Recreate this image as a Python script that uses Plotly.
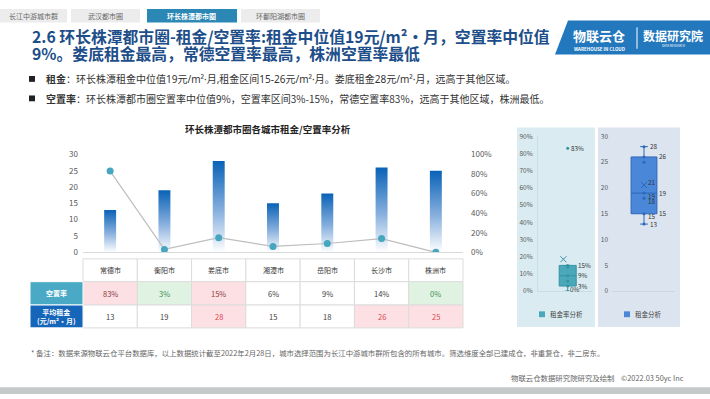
import plotly.graph_objects as go
import numpy as np

# ---------------- data ----------------
cities = ["常德市", "衡阳市", "娄底市", "湘潭市", "岳阳市", "长沙市", "株洲市"]
vacancy = [83, 3, 15, 6, 9, 14, 0]          # 空置率 %
rent = [13, 19, 28, 15, 18, 26, 25]         # 平均租金 元/m²·月
tabs = ["长江中游城市群", "武汉都市圈", "环长株潭都市圈", "环鄱阳湖都市圈"]
active_tab = 2
rent_ticks = [0, 5, 10, 15, 20, 25, 30]
vac_ticks = [0, 20, 40, 60, 80, 100]
box_vac_ticks = [0, 10, 20, 30, 40, 50, 60, 70, 80, 90]
box_rent_ticks = [0, 5, 10, 15, 20, 25, 30]

W, H = 710, 399
FONT = "Noto Sans CJK SC, Noto Sans, sans-serif"
FONT_LAT = "Noto Sans, Noto Sans CJK SC, sans-serif"


def fx(x):
    return x / W


def fy(y):
    return 1 - y / H


fig = go.Figure()
shapes = []
ann = []


def txt(x, y, text, size, color, xa="center", ya="middle", xref="paper", yref="paper", family=FONT):
    if xref == "paper":
        x = fx(x)
    if yref == "paper":
        y = fy(y)
    ann.append(dict(x=x, y=y, xref=xref, yref=yref, xanchor=xa, yanchor=ya, showarrow=False,
                    text=text, font=dict(size=size, color=color, family=family)))


def rect(x0, y0, x1, y1, fill, line=None, layer="above"):
    shapes.append(dict(type="rect", xref="paper", yref="paper", x0=fx(x0), x1=fx(x1), y0=fy(y1), y1=fy(y0),
                       fillcolor=fill, line=line or dict(width=0), layer=layer))


# ---------------- header tabs ----------------
tab_x = [(0, 67), (71, 140), (147, 237), (241, 320)]
for i, (t, (a, b)) in enumerate(zip(tabs, tab_x)):
    act = i == active_tab
    rect(a, 3, b, 17, "#2b87b4" if act else "#ececec", layer="below")
    txt((a + b) / 2, 10, f"<b>{t}</b>" if act else t, 7, "white" if act else "#666666")

# title
txt(30, 31, "<b>2.6 环长株潭都市圈-租金/空置率:租金中位值19元/m²•月，空置率中位值</b>", 15.8, "#1d4e89", xa="left")
txt(30, 49, "<b>9%。娄底租金最高，常德空置率最高，株洲空置率最低</b>", 15.8, "#1d4e89", xa="left")

# logo
shapes.append(dict(type="path", xref="paper", yref="paper",
                   path=f"M {fx(555)},{fy(50)} L {fx(568)},{fy(15)} L {fx(710)},{fy(15)} L {fx(710)},{fy(50)} Z",
                   fillcolor="#2277bd", line=dict(width=0)))
shapes.append(dict(type="line", xref="paper", yref="paper", x0=fx(637), x1=fx(637), y0=fy(22), y1=fy(44),
                   line=dict(color="white", width=1)))
txt(599, 30, "<b>物联云仓</b>", 13, "white")
txt(599, 44, "<b>WAREHOUSE IN CLOUD</b>", 4.5, "white")
txt(673, 30, "<b>数据研究院</b>", 12, "white")
txt(673, 41, "DATA RESEARCH", 3, "white")

# bullets
bullets = [("租金", "：环长株潭租金中位值19元/m²·月,租金区间15-26元/m²·月。娄底租金28元/m²·月，远高于其他区域。", FONT_LAT),
           ("空置率", "：环长株潭都市圈空置率中位值9%，空置率区间3%-15%，常德空置率83%，远高于其他区域，株洲最低。", FONT)]
for k, (b, t, fam) in enumerate(bullets):
    yy = 75 + 20 * k
    rect(29, yy - 3, 35, yy + 3, "#222222")
    txt(44, yy, f"<b>{b}</b>{t}", 10.0, "#333333", xa="left", family=fam)

# chart title
txt(268, 127, "<b>环长株潭都市圈各城市租金/空置率分析</b>", 9.5, "#222222")

# ---------------- bars (gradient) ----------------
bar_half = 0.11
for i, v in enumerate(rent):
    fig.add_trace(go.Scatter(
        x=[i - bar_half, i - bar_half, i + bar_half, i + bar_half, i - bar_half],
        y=[0, v, v, 0, 0], mode="lines", line=dict(width=0), fill="toself",
        fillgradient=dict(type="vertical",
                          colorscale=[[0, "#ffffff"], [0.45, "#88b0de"], [1, "#0962b7"]]),
        hoverinfo="skip", showlegend=False, xaxis="x", yaxis="y"))

# vacancy line
fig.add_trace(go.Scatter(x=list(range(len(cities))), y=[v / 100 for v in vacancy], mode="lines+markers",
                         line=dict(color="#bdbdbd", width=1.2), marker=dict(color="#45a6bf", size=7),
                         xaxis="x", yaxis="y2", showlegend=False))

# ---------------- table ----------------
tx0, tx1 = 83, 463
colw = (tx1 - tx0) / len(cities)
lab_x0 = 30
rows_y = [260, 283.5, 307.5, 331]
bord = dict(color="#dcdcdc", width=1)

rent_sorted = sorted(rent, reverse=True)
vac_sorted = sorted(vacancy)
for i, c in enumerate(cities):
    a = tx0 + i * colw
    b = a + colw
    cx = (a + b) / 2
    rect(a, rows_y[0], b, rows_y[1], "white", bord)
    txt(cx, (rows_y[0] + rows_y[1]) / 2, c, 7, "#333333")
    v = vacancy[i]
    if v >= vac_sorted[-2]:
        fc, tc = "#fde0e4", "#8b3b3b"
    elif v <= vac_sorted[1]:
        fc, tc = "#e0f3e3", "#3f8f4f"
    else:
        fc, tc = "white", "#404040"
    rect(a, rows_y[1], b, rows_y[2], fc, bord)
    txt(cx, (rows_y[1] + rows_y[2]) / 2, f"{v}%", 7.5, tc)
    r = rent[i]
    if r >= rent_sorted[2]:
        fc, tc = "#fde0e4", "#e0464e"
    else:
        fc, tc = "white", "#404040"
    rect(a, rows_y[2], b, rows_y[3], fc, bord)
    txt(cx, (rows_y[2] + rows_y[3]) / 2, f"{r}", 7.5, tc)

row_labels = [("空置率", "#4aa9c4"), ("平均租金<br>(元/m²•月)", "#1565b8")]
for k, (t, col) in enumerate(row_labels):
    y0, y1 = rows_y[k + 1], rows_y[k + 2]
    rect(lab_x0, y0, tx0, y1, col, dict(color="white", width=1))
    txt((lab_x0 + tx0) / 2, (y0 + y1) / 2, f"<b>{t}</b>", 7, "white")

# ---------------- box plot panels ----------------
rect(517, 125, 595, 330, "#daecf1", layer="below")
rect(598, 125, 680, 330, "#dce4ef", layer="below")

vac_frac = [v / 100 for v in vacancy]
fig.add_trace(go.Box(x=[0] * len(vac_frac), y=vac_frac, xaxis="x3", yaxis="y3", quartilemethod="exclusive",
                     boxpoints="all", jitter=0, pointpos=0, width=0.315, whiskerwidth=0.35,
                     fillcolor="#4ba8b9", line=dict(color="#3593a5", width=1),
                     marker=dict(color="#3593a5", size=3), showlegend=False, hoverinfo="skip"))
fig.add_trace(go.Scatter(x=[-0.08], y=[np.mean(vac_frac)], xaxis="x3", yaxis="y3", mode="markers",
                         marker=dict(symbol="x-thin", size=6, line=dict(width=1, color="#3593a5")),
                         showlegend=False, hoverinfo="skip"))

fig.add_trace(go.Box(x=[0] * len(rent), y=rent, xaxis="x4", yaxis="y4", quartilemethod="exclusive",
                     boxpoints="all", jitter=0, pointpos=0, width=0.41, whiskerwidth=0.3,
                     fillcolor="#4a87d8", line=dict(color="#2c68b8", width=1),
                     marker=dict(color="#2c68b8", size=3), showlegend=False, hoverinfo="skip"))
fig.add_trace(go.Scatter(x=[0], y=[np.mean(rent)], xaxis="x4", yaxis="y4", mode="markers",
                         marker=dict(symbol="x-thin", size=6, line=dict(width=1, color="#2c68b8")),
                         showlegend=False, hoverinfo="skip"))


def excl_quart(d):
    s = sorted(d)
    n = len(s)
    med = float(np.median(s))
    lo = s[: n // 2]
    hi = s[(n + 1) // 2:]
    return float(np.median(lo)), med, float(np.median(hi))


LC = "#333333"
LS = 6.3
q1, md, q3 = excl_quart(vacancy)
for q in (q1, md, q3):
    txt(0.16, q / 100, f"{q:.0f}%", LS, LC, xa="left", xref="x3", yref="y3")
txt(0.02, max(vacancy) / 100, f"{max(vacancy)}%", LS, LC, xa="left", xref="x3", yref="y3")
txt(0.0, min(vacancy) / 100 + 0.01, f"{min(vacancy)}%", LS, LC, xa="left", xref="x3", yref="y3")

q1, md, q3 = excl_quart(rent)
for q in (q1, md, q3):
    txt(0.21, q, f"{q:.0f}", LS, LC, xa="left", xref="x4", yref="y4")
for v in (max(rent), min(rent)):
    txt(0.06, v, f"{v}", LS, LC, xa="left", xref="x4", yref="y4")
txt(0.03, float(np.mean(rent)) + 0.4, f"{np.mean(rent):.0f}", LS, LC, xa="left", xref="x4", yref="y4")
for v in sorted(set(rent)):
    if min(rent) < v <= md:
        txt(0.03, v - 0.6, f"{v}", LS, LC, xa="left", xref="x4", yref="y4")

# box legends
for (x0, col, t) in [(539, "#4ba8b9", "租金率分析"), (624, "#4a87d8", "租金分析")]:
    rect(x0, 314, x0 + 6, 320, col)
    txt(x0 + 9, 317, t, 6.5, "#444444", xa="left")

# ---------------- footer ----------------
txt(29, 356, "* 备注：数据来源物联云仓平台数据库，以上数据统计截至2022年2月28日，城市选择范围为长江中游城市群所包含的所有城市。筛选维度全部已建成仓，非重复仓，非二房东。",
    7.4, "#666666", xa="left")
txt(686, 382, "物联云仓数据研究院研究及绘制 &nbsp;&nbsp; ©2022.03 50yc Inc", 7.4, "#666666", xa="right")
rect(0, 392, 710, 399, "#c4c9c9")

# ---------------- layout ----------------
tickf = dict(size=8, color="#595959", family=FONT)
tickb = dict(size=6.5, color="#595959", family=FONT)
fig.update_layout(
    width=W, height=H, margin=dict(l=0, r=0, t=0, b=0),
    paper_bgcolor="white", plot_bgcolor="rgba(0,0,0,0)", showlegend=False,
    font=dict(family=FONT),
    xaxis=dict(domain=[fx(83), fx(463)], range=[-0.5, 6.5], showticklabels=False, showgrid=False,
               zeroline=False, showline=True, linecolor="#d9d9d9", linewidth=1, fixedrange=True),
    yaxis=dict(domain=[fy(253.3), fy(152.6)], range=[0, 30], tickvals=rent_ticks, showgrid=False,
               zeroline=False, tickfont=tickf, ticklabelstandoff=4),
    yaxis2=dict(overlaying="y", side="right", anchor="x", range=[0, 1], tickvals=[v / 100 for v in vac_ticks],
                tickformat=".0%", showgrid=False, zeroline=False, tickfont=tickf, ticklabelstandoff=7),
    xaxis3=dict(domain=[fx(538), fx(592)], range=[-0.55, 0.45], type="linear", showticklabels=False,
                showgrid=False, zeroline=False, showline=True, linecolor="#c9dde3", anchor="y3"),
    yaxis3=dict(domain=[fy(293.3), fy(134)], range=[0, 0.9], tickvals=[v / 100 for v in box_vac_ticks],
                tickformat=".0%", showgrid=False, zeroline=False, showline=True, linecolor="#c9dde3",
                tickfont=tickb, anchor="x3", ticklabelstandoff=3),
    xaxis4=dict(domain=[fx(612), fx(675)], range=[-0.508, 0.492], type="linear", showticklabels=False,
                showgrid=False, zeroline=False, showline=True, linecolor="#cdd6e3", anchor="y4"),
    yaxis4=dict(domain=[fy(293.3), fy(134)], range=[0, 30], tickvals=box_rent_ticks, showgrid=False,
                zeroline=False, showline=False, tickfont=tickb, anchor="x4", ticklabelstandoff=3),
    shapes=shapes, annotations=ann,
)

fig.write_html("out.html", config={"displayModeBar": False},
               post_script="document.body.style.margin='0';document.body.style.overflow='hidden';")
